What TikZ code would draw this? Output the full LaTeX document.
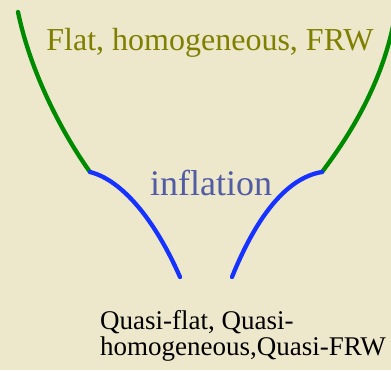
\documentclass[tikz,border=0pt]{standalone}
\usepackage{fontspec}
\setmainfont{Liberation Serif}
\usetikzlibrary{positioning}

\definecolor{parchment}{RGB}{237,231,204}
\definecolor{flatcol}{RGB}{128,128,0}
\definecolor{inflcol}{RGB}{82,92,165}
\definecolor{curvegreen}{RGB}{0,138,0}
\definecolor{curveblue}{RGB}{22,50,255}

\tikzset{
  era/.style={line width=4.3pt, line cap=round},
  label/.style={inner sep=0pt, anchor=base}
}

\begin{document}
\begin{tikzpicture}[x=1pt, y=1pt]
  \fill[parchment] (0,0) rectangle (391,370);
  \useasboundingbox (0,0) rectangle (391,370);

  \coordinate (jl) at (90,198);
  \coordinate (jr) at (322,198);

  \begin{scope}
    \clip (0,0) rectangle (391,370);
    % late universe
    \draw[era, curvegreen] (18,358) .. controls (30,300) and (60,240) .. (jl);
    \draw[era, curvegreen] (jr) .. controls (350,235) and (385,290) .. (396,360);
    % inflation
    \draw[era, curveblue] (jl) .. controls (122,190) and (155,150) .. (180,93);
    \draw[era, curveblue] (jr) .. controls (285,192) and (255,150) .. (232,93);
  \end{scope}

  \node[label, flatcol, font=\fontsize{32}{36}\selectfont] (flat) at (210,319) {Flat, homogeneous, FRW};
  \node[label, inflcol, font=\fontsize{36}{40}\selectfont] (infl) at (211,174) {inflation};
  \node[inner sep=0pt, anchor=base west, align=left, font=\fontsize{27}{26}\selectfont] (quasi) at (100,15)
    {Quasi-flat, Quasi-\\homogeneous,Quasi-FRW};
\end{tikzpicture}
\end{document}
